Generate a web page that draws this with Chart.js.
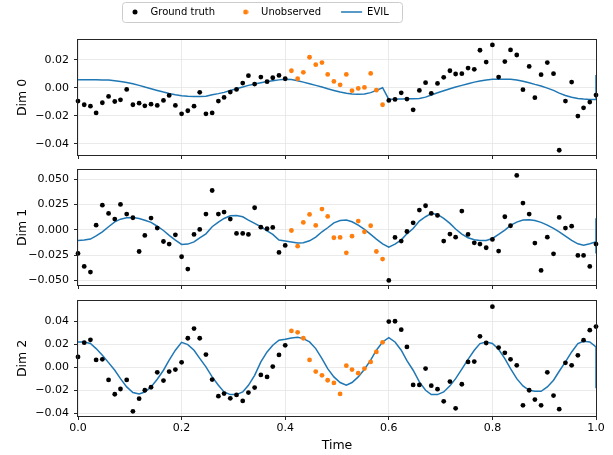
<!DOCTYPE html>
<html><head><meta charset="utf-8">
<script src="https://cdn.jsdelivr.net/npm/chart.js@4.4.1/dist/chart.umd.min.js"></script>
<style>
html,body{margin:0;padding:0;background:#fff;width:613px;height:455px;overflow:hidden}
canvas{position:absolute;left:0}
</style></head><body>
<canvas id="c0" width="613" height="161" style="top:0px"></canvas>
<canvas id="c1" width="613" height="126" style="top:165px"></canvas>
<canvas id="c2" width="613" height="160" style="top:295px"></canvas>
<script>
// ---------------- data ----------------
const times = [0.000,0.012,0.024,0.035,0.047,0.059,0.071,0.082,0.094,0.106,
0.118,0.129,0.141,0.153,0.165,0.176,0.188,0.200,0.212,0.224,
0.235,0.247,0.259,0.271,0.282,0.294,0.306,0.318,0.329,0.341,
0.353,0.365,0.376,0.388,0.400,0.412,0.424,0.435,0.447,0.459,
0.471,0.482,0.494,0.506,0.518,0.529,0.541,0.553,0.565,0.576,
0.588,0.600,0.612,0.624,0.635,0.647,0.659,0.671,0.682,0.694,
0.706,0.718,0.729,0.741,0.753,0.765,0.776,0.788,0.800,0.812,
0.824,0.835,0.847,0.859,0.871,0.882,0.894,0.906,0.918,0.929,
0.941,0.953,0.965,0.976,0.988,1.000];
const unobservedFirst = 35;   // index of first unobserved sample
const unobservedLast = 50;    // index of last unobserved sample

const dim0 = [-0.0095,-0.0121,-0.0131,-0.0179,-0.0107,-0.0062,-0.0098,-0.0086,-0.0012,-0.0121,
-0.0110,-0.0129,-0.0117,-0.0126,-0.0090,-0.0055,-0.0126,-0.0186,-0.0164,-0.0131,
-0.0033,-0.0186,-0.0179,-0.0095,-0.0069,-0.0031,-0.0012,0.0033,0.0086,0.0026,
0.0076,0.0043,0.0071,0.0088,0.0064,0.0121,0.0064,0.0110,0.0217,0.0164,
0.0179,0.0095,0.0045,0.0021,0.0095,-0.0021,-0.0005,0.0002,0.0102,-0.0017,
-0.0121,-0.0090,-0.0083,-0.0036,-0.0081,-0.0157,-0.0019,0.0036,-0.0040,0.0031,
0.0074,0.0121,0.0098,0.0100,0.0140,0.0131,0.0267,0.0183,0.0305,0.0076,
0.0186,0.0269,0.0233,-0.0014,0.0152,-0.0071,0.0093,0.0179,0.0100,-0.0445,
-0.0095,0.0040,-0.0202,-0.0143,-0.0102,-0.0052];
const dim1 = [-0.0234,-0.0363,-0.0419,0.0046,0.0244,0.0162,0.0106,0.0251,0.0155,0.0119,
-0.0215,-0.0056,0.0116,0.0017,-0.0116,-0.0142,-0.0050,-0.0267,-0.0389,-0.0046,
0.0003,0.0155,0.0389,0.0155,0.0175,0.0106,-0.0036,-0.0036,-0.0046,0.0218,
0.0026,0.0010,0.0023,-0.0224,-0.0155,-0.0007,-0.0162,0.0073,0.0152,0.0043,
0.0205,0.0132,-0.0079,-0.0076,-0.0228,-0.0063,0.0086,-0.0020,0.0040,-0.0215,
-0.0290,-0.0502,-0.0076,-0.0112,-0.0017,0.0069,0.0195,0.0238,0.0162,0.0142,
-0.0112,-0.0043,-0.0073,0.0185,-0.0046,-0.0129,-0.0142,-0.0178,-0.0096,-0.0211,
0.0129,0.0040,0.0538,0.0264,0.0155,-0.0132,-0.0403,-0.0073,-0.0238,0.0122,
0.0017,0.0036,-0.0254,-0.0254,-0.0363,-0.0142];
const dim2 = [0.0093,0.0217,0.0241,0.0067,0.0072,-0.0107,-0.0232,-0.0186,-0.0107,-0.0380,
-0.0270,-0.0197,-0.0171,-0.0041,-0.0113,-0.0035,-0.0017,0.0046,0.0255,0.0339,
0.0255,0.0113,-0.0104,-0.0249,-0.0226,-0.0267,-0.0238,-0.0290,-0.0217,-0.0174,
-0.0064,-0.0081,0.0009,0.0110,0.0194,0.0319,0.0307,0.0255,0.0067,-0.0035,
-0.0067,-0.0110,-0.0133,-0.0229,0.0017,-0.0017,-0.0049,-0.0009,0.0049,0.0136,
0.0220,0.0400,0.0403,0.0330,0.0180,-0.0151,-0.0151,-0.0009,-0.0157,-0.0188,
-0.0293,-0.0122,-0.0354,-0.0145,0.0049,0.0052,0.0272,0.0214,0.0530,0.0174,
0.0128,0.0072,0.0020,-0.0328,-0.0197,-0.0278,-0.0328,-0.0041,-0.0243,-0.0362,
0.0041,0.0020,0.0107,0.0238,0.0325,0.0357];

const evil0 = [0.0057,0.0057,0.0057,0.0057,0.0056,0.0055,0.0050,0.0044,0.0038,0.0028,
0.0017,0.0005,-0.0007,-0.0019,-0.0031,-0.0041,-0.0050,-0.0057,-0.0060,-0.0062,
-0.0062,-0.0060,-0.0050,-0.0042,-0.0033,-0.0020,-0.0007,0.0005,0.0017,0.0027,
0.0036,0.0044,0.0050,0.0056,0.0060,0.0058,0.0050,0.0040,0.0029,0.0017,
0.0005,-0.0007,-0.0019,-0.0031,-0.0040,-0.0045,-0.0047,-0.0045,-0.0035,-0.0019,
0.0000,-0.0083,-0.0081,-0.0080,-0.0079,-0.0079,-0.0076,-0.0067,-0.0052,-0.0036,
-0.0021,-0.0007,0.0005,0.0017,0.0029,0.0040,0.0048,0.0055,0.0060,0.0061,
0.0061,0.0060,0.0055,0.0046,0.0036,0.0024,0.0012,-0.0003,-0.0019,-0.0038,
-0.0055,-0.0067,-0.0076,-0.0081,-0.0083,-0.0084];
const evil1 = [-0.0106,-0.0102,-0.0092,-0.0060,-0.0020,0.0030,0.0079,0.0105,0.0119,0.0122,
0.0112,0.0095,0.0073,0.0035,-0.0007,-0.0055,-0.0102,-0.0145,-0.0142,-0.0120,
-0.0080,-0.0040,0.0030,0.0075,0.0112,0.0139,0.0142,0.0129,0.0096,0.0063,
0.0030,-0.0010,-0.0046,-0.0102,-0.0112,-0.0122,-0.0132,-0.0129,-0.0109,-0.0073,
-0.0020,0.0020,0.0069,0.0092,0.0096,0.0079,0.0046,0.0003,-0.0046,-0.0092,
-0.0139,-0.0172,-0.0142,-0.0100,-0.0040,0.0013,0.0086,0.0129,0.0162,0.0152,
0.0112,0.0063,0.0007,-0.0043,-0.0079,-0.0099,-0.0106,-0.0106,-0.0086,-0.0046,
-0.0003,0.0043,0.0076,0.0096,0.0099,0.0092,0.0073,0.0046,0.0013,-0.0020,
-0.0063,-0.0106,-0.0139,-0.0152,-0.0139,-0.0119];
const evil2 = [0.0223,0.0222,0.0209,0.0165,0.0107,0.0043,-0.0023,-0.0096,-0.0168,-0.0217,
-0.0229,-0.0212,-0.0168,-0.0101,-0.0023,0.0064,0.0151,0.0220,0.0200,0.0151,
0.0080,0.0006,-0.0081,-0.0154,-0.0212,-0.0235,-0.0235,-0.0212,-0.0154,-0.0067,
0.0049,0.0136,0.0194,0.0238,0.0246,0.0258,0.0264,0.0252,0.0223,0.0165,
0.0078,-0.0009,-0.0081,-0.0130,-0.0154,-0.0130,-0.0081,-0.0014,0.0064,0.0151,
0.0223,0.0261,0.0223,0.0151,0.0060,-0.0023,-0.0125,-0.0197,-0.0235,-0.0235,
-0.0212,-0.0159,-0.0096,-0.0014,0.0072,0.0151,0.0209,0.0223,0.0209,0.0159,
0.0078,-0.0009,-0.0096,-0.0159,-0.0197,-0.0206,-0.0206,-0.0168,-0.0110,-0.0032,
0.0049,0.0136,0.0209,0.0229,0.0223,0.0180];
// extra EVIL values at Time = 1.0 (vertical jump at the right edge)
const evilEnd0 = [0.0090];
const evilEnd1 = [0.0113, -0.0234];
const evilEnd2 = [-0.0180];

const seriesNames = ['Ground truth', 'Unobserved', 'EVIL'];
const panelTitles = ['Dim 0', 'Dim 1', 'Dim 2'];
const xTitle = 'Time';
const xTicks = [0.0, 0.2, 0.4, 0.6, 0.8, 1.0];
const yTicks0 = [-0.04, -0.02, 0.00, 0.02];
const yTicks1 = [-0.050, -0.025, 0.000, 0.025, 0.050];
const yTicks2 = [-0.04, -0.02, 0.00, 0.02, 0.04];
const yRange0 = [-0.0479, 0.0340];
const yRange1 = [-0.0547, 0.0592];
const yRange2 = [-0.0421, 0.0579];

// ---------------- drawing ----------------
Chart.defaults.font.family = "'DejaVu Sans', sans-serif";
Chart.defaults.color = '#000';

const BLACK = '#000000', ORANGE = '#ff7f0e', BLUE = '#1f77b4';
const GRID = '#e4e4e4', SPINE = '#262626';

function fmt(v, dec) {
  if (Math.abs(v) < 1e-12) v = 0;
  return (v < 0 ? '\u2212' : '') + Math.abs(v).toFixed(dec);
}
function makeDot(color) {
  const c = document.createElement('canvas');
  c.width = 6; c.height = 6;
  const g = c.getContext('2d');
  g.fillStyle = color; g.beginPath(); g.arc(3, 3, 2.5, 0, Math.PI * 2); g.fill();
  return c;
}

const framePlugin = {
  id: 'frame',
  afterDatasetsDraw(chart) {
    const a = chart.chartArea, ctx = chart.ctx;
    ctx.save();
    ctx.strokeStyle = SPINE; ctx.lineWidth = 1;
    ctx.strokeRect(Math.round(a.left) - 0.5, Math.round(a.top) - 0.5,
                   Math.round(a.right - a.left) + 1, Math.round(a.bottom - a.top) + 1);
    ctx.restore();
  }
};
const legendPlacer = {
  id: 'legendPlacer',
  afterLayout(chart) {
    const lg = chart.legend;
    if (!lg || !lg.options.display) return;
    lg.left = 0;
    lg.right = 229 + lg.lineWidths[0];
    lg.top = -13;
    lg.bottom = lg.top + lg.height;
  },
  beforeDraw(chart) {
    const lg = chart.legend;
    if (!lg || !lg.options.display) return;
    const ctx = chart.ctx;
    ctx.save();
    ctx.fillStyle = '#ffffff'; ctx.strokeStyle = '#cccccc'; ctx.lineWidth = 1;
    ctx.beginPath();
    ctx.roundRect(122.5, 2.5, 280, 20, 3);
    ctx.fill(); ctx.stroke();
    ctx.restore();
  }
};

function buildPanel(id, values, evil, evilEnd, yRange, yTicks, dec, title, cfg) {
  const obs = [], unobs = [];
  values.forEach((v, i) => {
    const p = {x: times[i], y: v};
    if (i >= unobservedFirst && i <= unobservedLast) unobs.push(p); else obs.push(p);
  });
  const line = evil.map((v, i) => ({x: times[i], y: v}));
  evilEnd.forEach(v => line.push({x: times[times.length - 1], y: v}));

  return new Chart(document.getElementById(id), {
    type: 'scatter',
    data: {
      datasets: [
        {label: seriesNames[0], data: obs, backgroundColor: BLACK, borderColor: BLACK,
         borderWidth: 0, pointRadius: 2.4, pointHoverRadius: 2.4, pointStyle: 'circle', clip: false},
        {label: seriesNames[1], data: unobs, backgroundColor: ORANGE, borderColor: ORANGE,
         borderWidth: 0, pointRadius: 2.4, pointHoverRadius: 2.4, pointStyle: 'circle', clip: false},
        {label: seriesNames[2], data: line, showLine: true, borderColor: BLUE, backgroundColor: BLUE,
         borderWidth: 1.5, pointRadius: 0, pointHoverRadius: 0, pointStyle: 'line', tension: 0, fill: false}
      ]
    },
    options: {
      responsive: false, animation: false, events: [],
      layout: {padding: {left: 0, right: 17, top: cfg.padTop, bottom: 0}},
      plugins: {
        tooltip: {enabled: false},
        legend: {
          display: cfg.legend, position: 'top', align: 'center',
          labels: {
            font: {size: 10}, color: '#000', usePointStyle: true, pointStyleWidth: 21, padding: 20,
            generateLabels(chart) {
              const items = Chart.defaults.plugins.legend.labels.generateLabels(chart);
              items[0].pointStyle = makeDot(BLACK);
              items[1].pointStyle = makeDot(ORANGE);
              return items;
            }
          }
        }
      },
      scales: {
        x: {
          type: 'linear', min: 0, max: 1,
          afterBuildTicks: s => { s.ticks = xTicks.map(v => ({value: v})); },
          afterFit: s => { s.height = cfg.xHeight; s.paddingLeft = 0; s.paddingRight = 0; },
          ticks: {display: cfg.xLabels, font: {size: 11}, padding: 2, maxRotation: 0, autoSkip: false,
                  callback: v => v.toFixed(1)},
          grid: {color: GRID, lineWidth: 0.8, tickColor: SPINE, tickLength: 4, tickWidth: 1, drawTicks: true},
          border: {display: false},
          title: {display: cfg.xLabels, text: xTitle, font: {size: 12.5}, padding: {top: 0, bottom: 2}}
        },
        y: {
          min: yRange[0], max: yRange[1],
          afterBuildTicks: s => { s.ticks = yTicks.map(v => ({value: v})); },
          afterFit: s => { s.width = 78; s.paddingTop = 0; s.paddingBottom = 0; },
          ticks: {font: {size: 11}, padding: 5, callback: v => fmt(v, dec)},
          grid: {color: GRID, lineWidth: 0.8, tickColor: SPINE, tickLength: 4, tickWidth: 1, drawTicks: true},
          border: {display: false},
          title: {display: true, text: title, font: {size: 12.5}, padding: {top: 15, bottom: 0}}
        }
      }
    },
    plugins: [framePlugin, legendPlacer]
  });
}

buildPanel('c0', dim0, evil0, evilEnd0, yRange0, yTicks0, 2, panelTitles[0],
           {legend: true, padTop: 0, xHeight: 6, xLabels: false});
buildPanel('c1', dim1, evil1, evilEnd1, yRange1, yTicks1, 3, panelTitles[1],
           {legend: false, padTop: 5, xHeight: 6, xLabels: false});
buildPanel('c2', dim2, evil2, evilEnd2, yRange2, yTicks2, 2, panelTitles[2],
           {legend: false, padTop: 6, xHeight: 39, xLabels: true});
</script>
</body></html>
